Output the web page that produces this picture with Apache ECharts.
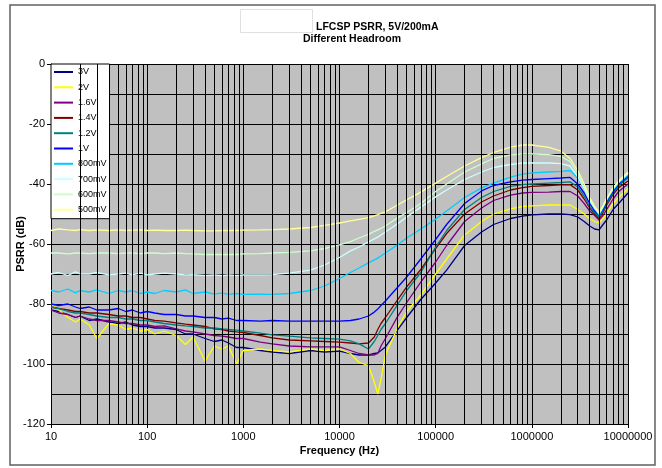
<!DOCTYPE html>
<html><head><meta charset="utf-8">
<script src="https://cdn.jsdelivr.net/npm/echarts@6/dist/echarts.min.js"></script>
<style>html,body{margin:0;padding:0;background:#fff}#c{width:662px;height:468px}</style>
</head><body><div id="c"></div>
<script>
const titleLine1 = 'LFCSP PSRR, 5V/200mA';
const titleLine2 = 'Different Headroom';
const xName = 'Frequency (Hz)';
const yName = 'PSRR (dB)';
const seriesNames = ['3V','2V','1.6V','1.4V','1.2V','1V','800mV','700mV','600mV','500mV'];

const freq = [10,12,15,18,20, 25,30,40,50,60, 70,85,100,120,150, 200,250,300,400,500,
  600,700,850,1000,1500, 2000,3000,5000,7000,10000, 13000,16000,20000,23000,25000,
  27000,30000,40000,50000,70000, 100000,130000,200000,300000,400000,
  600000,800000,1000000,1500000,2000000, 2500000,3000000,3500000,4000000,4500000,
  5000000,5500000,6000000,7000000,8000000, 10000000];

const v3V = [-82,-82.5,-83.5,-84.5,-84, -85.5,-85,-86,-86.5,-86, -87,-87.5,-87.5,-88,-88,
  -88.5,-90,-90,-91.5,-92.5, -92,-93,-94.5,-94.5,-95.5, -96,-96.5,-95.5,-96,-95.7,
  -96.5,-97,-97,-96.5,-96.3, -95.5,-94.3,-88.7,-84.5,-78.5, -73,-68.7,-60.5,-56,-53.5,
  -51.5,-50.7,-50.3,-50,-50, -50.2,-51,-52.5,-54,-55, -55.3,-53.5,-52,-48.5,-46.5, -43];
const v2V = [-80,-82,-84.5,-86,-85, -87,-91.5,-86.5,-87,-88.5, -88,-89,-88.5,-90,-89,
  -90.5,-93.5,-91,-99,-94, -95,-94,-100,-95.5,-95, -95.5,-96,-95,-95.5,-95,
  -96.5,-99.5,-100.5,-106,-110, -105,-97,-88,-82.5,-77, -70,-65,-57,-52.5,-50,
  -48.3,-47.5,-47.3,-47,-47, -47,-48.5,-50,-51.5,-52.5, -53,-51.5,-50,-46.5,-44.5, -41.5];
const v1V6 = [-82,-83,-83.5,-84.5,-84, -85,-85.5,-85.5,-86,-86.5, -86.5,-87,-87,-87.5,-87.3,
  -88.3,-89,-89.3,-90,-90.5, -90.7,-91,-91.5,-91.5,-92.7, -93.3,-94,-94.3,-94.3,-94.3,
  -95.5,-96.5,-97,-97,-96.5, -94,-91.5,-84.3,-79.5,-72.7, -66,-60.5,-52.5,-48,-45.5,
  -43.7,-43,-42.8,-42.7,-42.5, -42.5,-44,-46.5,-49,-50.5, -52,-50.5,-48.5,-45,-42.5, -40];
const v1V4 = [-81,-81.5,-82,-82.5,-82.5, -83,-83,-83.5,-84,-84, -84.5,-84.5,-85,-85.5,-85.7,
  -86.3,-86.7,-87,-87.5,-88.3, -88.5,-89,-89.3,-89.5,-90.5, -91.3,-92,-92.3,-92.5,-92.7,
  -93,-93.3,-93,-91,-88.5, -86.5,-84.5,-78.7,-74.3,-68.5, -61.5,-56.5,-50,-46,-44,
  -42,-41.2,-40.8,-40.5,-40.3, -40.2,-42,-45,-48,-50, -51.5,-49.5,-47,-43.5,-41.2, -39];
const v1V2 = [-81,-81.5,-82.5,-83,-83, -83.5,-84,-84.5,-84.5,-85, -85,-85.5,-85.5,-86,-86.5,
  -87,-87.3,-87.5,-88,-88, -88.3,-88.5,-88.7,-89,-89.7, -90.3,-90.7,-91.3,-91.5,-91.7,
  -92.3,-93.3,-95,-92.5,-90.5, -88.5,-86.5,-80.3,-75.5,-69.5, -61,-55.5,-48.5,-44.5,-42.5,
  -40.8,-40.2,-40,-39.7,-39.5, -39.3,-41,-44,-47.5,-49.5, -51,-49,-46.5,-43,-40.5, -38];
const v1V = [-80,-80.5,-80,-81,-81.5, -81,-82,-82,-81.5,-82.5, -82,-83,-82.5,-83,-83.5,
  -83.5,-84,-84,-84.5,-84.5, -85,-84.7,-85.5,-85.5,-85.7, -85.5,-85.7,-85.7,-85.7,-85.7,
  -85.5,-85,-84,-82.7,-81.7, -80.5,-79,-74.5,-71,-65, -58.5,-53.5,-46.5,-42.3,-40.5,
  -39.3,-38.7,-38.5,-38.2,-38, -37.8,-40,-43,-46.5,-49, -50.5,-48.5,-46,-42.5,-40, -37.5];
const v800 = [-75.5,-76,-75,-76.3,-75.5, -76,-75.3,-76.5,-75.5,-76, -75.5,-76.5,-76,-76.5,-75.5,
  -76,-75.3,-76.5,-76,-76.7, -76.3,-76.8,-76.5,-76.8,-76.7, -76.8,-76.5,-75.5,-74,-71.5,
  -69.5,-68,-66.3,-65.3,-64.7, -64,-63,-60.3,-58,-55, -51.7,-49,-44.5,-41.3,-39.7,
  -37.7,-36.7,-36.3,-36,-35.8, -35.5,-38,-41.5,-45.5,-48.3, -50.3,-48,-45.5,-42,-39.7, -37];
const v700 = [-70,-69.5,-70.5,-69.3,-70, -70,-69.5,-70.3,-70,-69.7, -70.3,-69.7,-70.3,-70,-69.7,
  -70,-70.3,-70.2,-70.5,-70.3, -70.5,-70.3,-70.5,-70.3,-70.3, -70.2,-69.7,-68.7,-67,-64.5,
  -62.3,-61,-59.3,-58.3,-57.7, -57,-56,-53.3,-51,-47.7, -44.3,-42,-38.5,-36,-34.5,
  -33.5,-33,-33,-33,-33.2, -34,-37.5,-41.5,-45.5,-48, -49.8,-47.5,-45,-41.5,-39.3, -36.5];
const v600 = [-63,-63,-63.3,-63,-63, -63.2,-63,-63,-63.2,-63, -63,-63.2,-63,-63,-63.2,
  -63,-63.2,-63.3,-63.5,-63.5, -63.5,-63.5,-63.5,-63.3,-63.2, -63,-62.8,-62.3,-61.5,-60.3,
  -59.2,-58,-56.8,-55.8,-55.3, -54.8,-54,-51.3,-49.5,-46.5, -42.5,-40,-36,-33.3,-31.5,
  -30.3,-30,-30,-30.2,-30.8, -32.5,-36.5,-41,-45,-47.8, -49.7,-47.5,-45,-41.5,-39, -36.3];
const v500 = [-55.5,-55,-55.3,-55.5,-55.2, -55.5,-55.3,-55.5,-55.3,-55.5, -55.4,-55.3,-55.5,-55.4,-55.5,
  -55.5,-55.4,-55.5,-55.6,-55.6, -55.5,-55.5,-55.5,-55.4,-55.3, -55.2,-55,-54.5,-53.8,-53,
  -52.3,-51.8,-51.2,-50.6,-50.2, -49.8,-49.3,-47,-45.3,-42.7, -39.7,-37.5,-34,-31.2,-29.5,
  -27.7,-27,-27,-27.8,-29, -31.5,-35.5,-40,-44.5,-47.5, -49.5,-47.3,-44.8,-41.3,-39, -36];

const seriesValues = [v3V, v2V, v1V6, v1V4, v1V2, v1V, v800, v700, v600, v500];
const colors = ['#000080','#FFFF00','#800080','#800000','#008080','#0000FF','#00CCFF','#CCFFFF','#CCFFCC','#FFFF99'];

// minor log grid positions (2..9 per decade)
const minorGridFreqs = [];
for (let d = 10; d < 1e7; d *= 10) for (let m = 2; m <= 9; m++) minorGridFreqs.push(d * m);

const chart = echarts.init(document.getElementById('c'), null, {renderer: 'canvas'});
const font = 'Liberation Sans, Arial, sans-serif';

const series = [{
  type: 'line', name: '_grid', data: [], silent: true, z: 1,
  markLine: {
    silent: true, animation: false, symbol: ['none','none'], label: {show: false},
    lineStyle: {color: '#000', width: 1, type: 'solid'},
    emphasis: {disabled: true},
    data: minorGridFreqs.map(f => ({xAxis: f}))
  }
}];
seriesNames.forEach((n, i) => {
  series.push({
    type: 'line', name: n, showSymbol: false, symbol: 'none', z: 3,
    lineStyle: {width: 1.3, color: colors[i]}, itemStyle: {color: colors[i]},
    data: freq.map((f, k) => [f, seriesValues[i][k]])
  });
});

chart.setOption({
  animation: false,
  backgroundColor: '#fff',
  textStyle: {fontFamily: font},
  grid: {left: 51, right: 34, top: 64, bottom: 44, show: true, backgroundColor: '#C0C0C0', borderWidth: 0,
    containLabel: false, outerBoundsMode: 'none'},
  xAxis: {
    type: 'log', logBase: 10, min: 10, max: 1e7,
    name: xName, nameLocation: 'middle', nameGap: 21, nameMoveOverlap: false,
    nameTextStyle: {fontFamily: font, fontSize: 11, fontWeight: 'bold', color: '#000'},
    axisLine: {show: true, onZero: false, lineStyle: {color: '#000', width: 1}},
    axisTick: {show: true, length: 4, lineStyle: {color: '#000'}},
    axisLabel: {fontFamily: font, fontSize: 11, color: '#000', margin: 7,
      formatter: v => String(Math.round(v))},
    splitLine: {show: true, lineStyle: {color: '#000', width: 1}}
  },
  yAxis: {
    type: 'value', min: -120, max: 0, interval: 20,
    name: yName, nameLocation: 'middle', nameGap: 25, nameMoveOverlap: false,
    nameTextStyle: {fontFamily: font, fontSize: 11, fontWeight: 'bold', color: '#000'},
    axisLine: {show: true, lineStyle: {color: '#000', width: 1}},
    axisTick: {show: true, length: 4, lineStyle: {color: '#000'}},
    axisLabel: {fontFamily: font, fontSize: 11, color: '#000', margin: 6},
    splitLine: {show: true, lineStyle: {color: '#000', width: 1}},
    minorTick: {show: false, splitNumber: 2},
    minorSplitLine: {show: true, lineStyle: {color: '#000', width: 1}}
  },
  legend: {
    data: seriesNames, orient: 'vertical', left: 51, top: 64,
    backgroundColor: '#fff', borderColor: '#000', borderWidth: 1,
    padding: [2, 3, 3, 3], itemGap: 3.3, itemWidth: 19, itemHeight: 2, icon: 'rect',
    textStyle: {fontFamily: font, fontSize: 9, color: '#000', lineHeight: 12}
  },
  graphic: [
    {type: 'rect', shape: {x: 10, y: 5, width: 645, height: 460}, style: {fill: null, stroke: '#606060', lineWidth: 1.5}, silent: true, z: 100},
    {type: 'text', x: 316, y: 27, style: {text: titleLine1, font: 'bold 10.5px ' + font, fill: '#000', textAlign: 'left', textVerticalAlign: 'middle'}, z: 100},
    {type: 'text', x: 352, y: 39, style: {text: titleLine2, font: 'bold 10.5px ' + font, fill: '#000', textAlign: 'center', textVerticalAlign: 'middle'}, z: 100},
    {type: 'rect', shape: {x: 240.5, y: 9.5, width: 72, height: 23}, style: {fill: '#fff', stroke: '#e0e0e0', lineWidth: 1}, z: 101}
  ],
  series: series
});
</script></body></html>
